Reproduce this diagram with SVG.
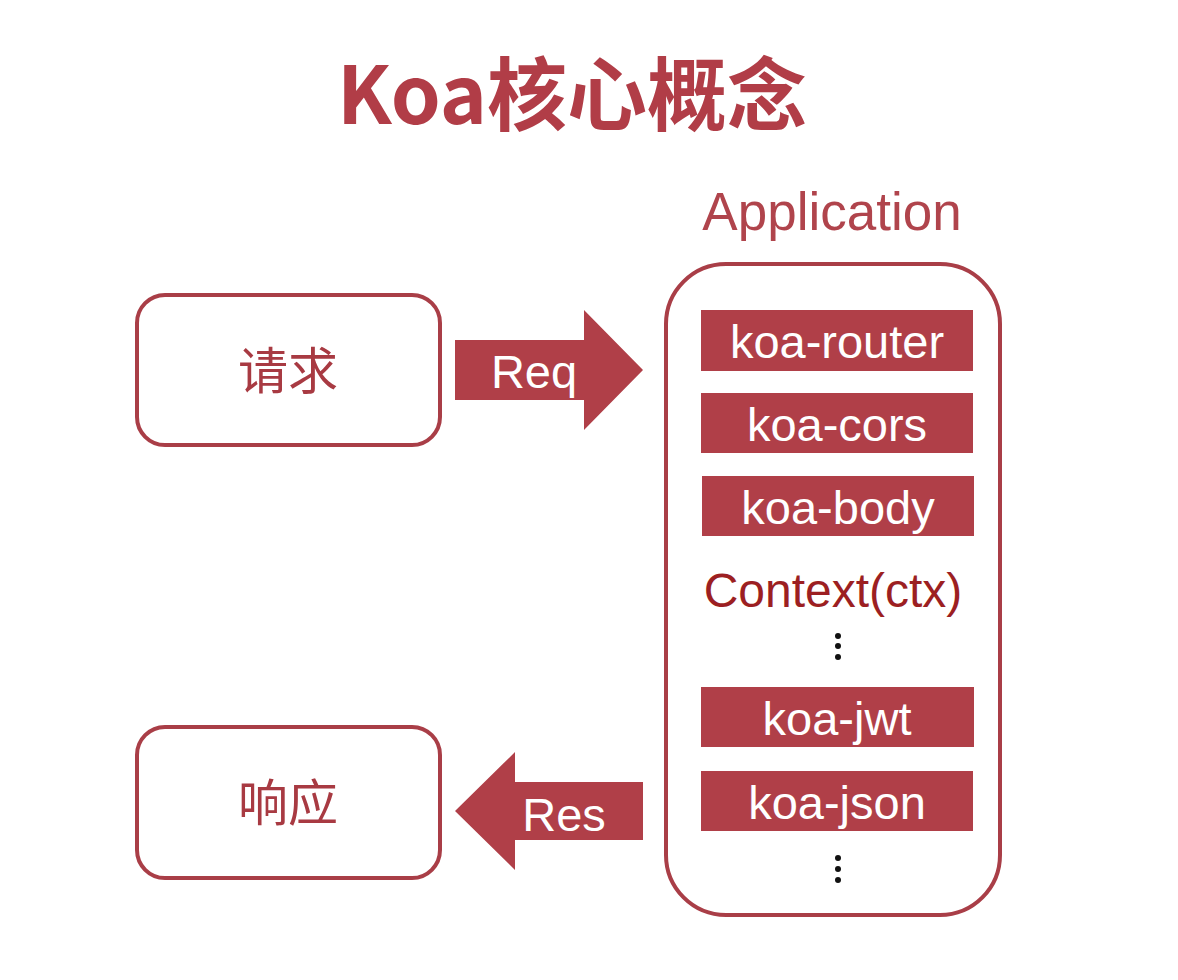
<svg xmlns="http://www.w3.org/2000/svg" width="1178" height="980" viewBox="0 0 1178 980">
<style>
.box{fill:#fff;stroke:#a93e47;stroke-width:4}
.mw{fill:#b03f48}
.wt{fill:#fff;font-family:"Liberation Sans",Arial,sans-serif;font-size:47px;text-anchor:middle}
.cn{fill:#a83a42;font-family:"Noto Sans CJK SC",sans-serif;font-size:50px;text-anchor:middle}
.dot{fill:#111}
</style>
<rect width="1178" height="980" fill="#fff"/>
<text x="572" y="124" text-anchor="middle" font-family="'Noto Sans CJK SC',sans-serif" font-weight="bold" font-size="80" fill="#b13d47">Koa核心概念</text>
<g id="req-node">
<rect class="box" x="137" y="295" width="303" height="150" rx="28"/>
<text class="cn" x="288" y="389">请求</text>
</g>
<g id="res-node">
<rect class="box" x="137" y="727" width="303" height="151" rx="28"/>
<text class="cn" x="288" y="821">响应</text>
</g>
<g id="application">
<text x="832" y="230" text-anchor="middle" font-family="'Liberation Sans',Arial,sans-serif" font-size="53" fill="#b0444c">Application</text>
<rect class="box" x="666" y="264" width="334" height="651" rx="60"/>
<g id="koa-router"><rect class="mw" x="701" y="310" width="272" height="61"/><text class="wt" x="837" y="358">koa-router</text></g>
<g id="koa-cors"><rect class="mw" x="701" y="393" width="272" height="60"/><text class="wt" x="837" y="441">koa-cors</text></g>
<g id="koa-body"><rect class="mw" x="702" y="476" width="272" height="60"/><text class="wt" x="838" y="524">koa-body</text></g>
<text x="833" y="607" text-anchor="middle" font-family="'Liberation Sans',Arial,sans-serif" font-size="48" fill="#9c1f22">Context(ctx)</text>
<circle class="dot" cx="838" cy="636" r="3"/><circle class="dot" cx="838" cy="646" r="3"/><circle class="dot" cx="838" cy="657" r="3"/>
<g id="koa-jwt"><rect class="mw" x="701" y="687" width="273" height="60"/><text class="wt" x="837" y="735">koa-jwt</text></g>
<g id="koa-json"><rect class="mw" x="701" y="771" width="272" height="60"/><text class="wt" x="837" y="819">koa-json</text></g>
<circle class="dot" cx="838" cy="858" r="3"/><circle class="dot" cx="838" cy="869" r="3"/><circle class="dot" cx="838" cy="880" r="3"/>
</g>
<g id="connectors">
<g id="req-arrow">
<polygon class="mw" points="455,340 584,340 584,310 643,370 584,430 584,400 455,400"/>
<text class="wt" x="534" y="388">Req</text>
</g>
<g id="res-arrow">
<polygon class="mw" points="643,782 515,782 515,752 455,811 515,870 515,840 643,840"/>
<text class="wt" x="564" y="831">Res</text>
</g>
</g>
</svg>
